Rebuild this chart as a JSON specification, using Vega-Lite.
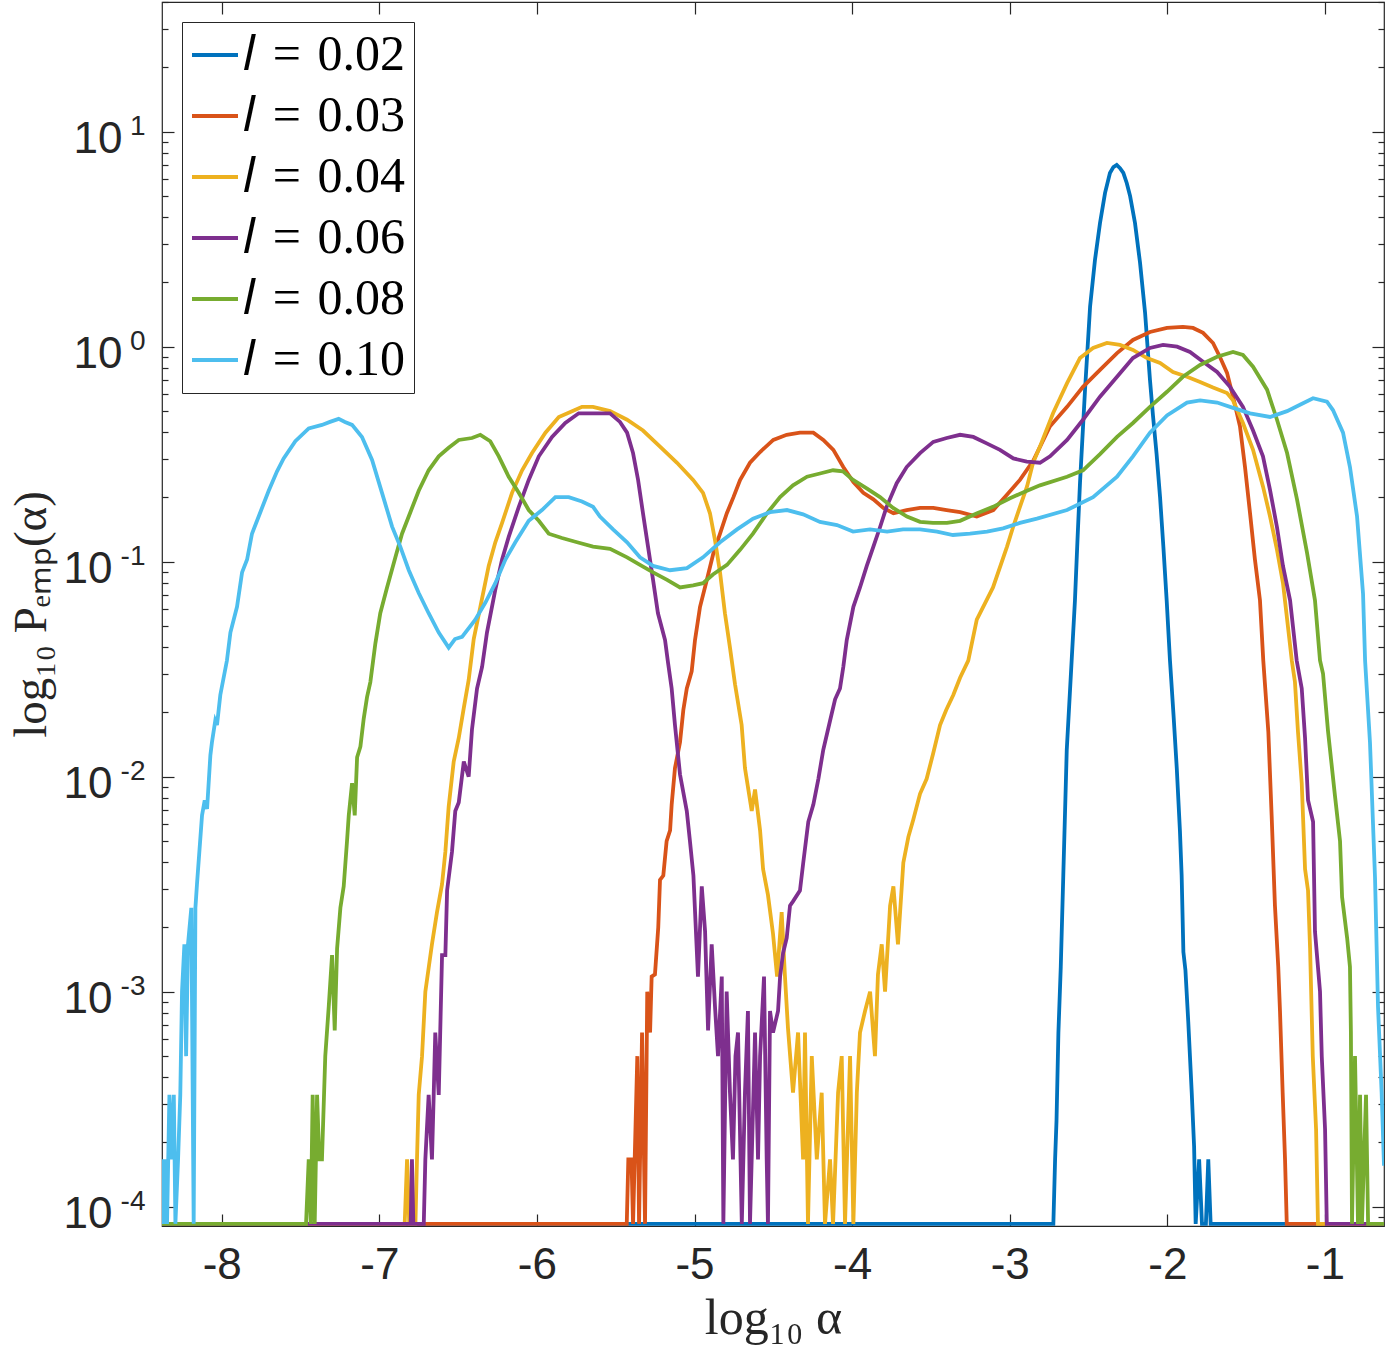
{
  "$schema": "https://vega.github.io/schema/vega-lite/v6.json",
  "width": 1222,
  "height": 1224,
  "autosize": {"type": "none"},
  "padding": {"left": 162, "top": 2, "right": 4, "bottom": 122},
  "background": "white",
  "config": {
    "view": {"stroke": "#262626", "strokeWidth": 1.2},
    "axis": {
      "domain": false,
      "grid": false,
      "tickColor": "#262626",
      "tickWidth": 1.2,
      "labelColor": "#262626",
      "labelFont": "Liberation Sans",
      "labelFontSize": 44,
      "titleFont": "Liberation Serif",
      "titleFontSize": 50,
      "titleFontWeight": "normal",
      "titleColor": "#262626"
    }
  },
  "data": {"values": [
{"l":"0.02","a":-8.379,"p":-4.08},{"l":"0.02","a":-2.723,"p":-4.08},{"l":"0.02","a":-2.712,"p":-3.78},{"l":"0.02","a":-2.703,"p":-3.6},{"l":"0.02","a":-2.691,"p":-3.19},{"l":"0.02","a":-2.676,"p":-2.885},{"l":"0.02","a":-2.660,"p":-2.46},{"l":"0.02","a":-2.638,"p":-1.875},{"l":"0.02","a":-2.607,"p":-1.46},{"l":"0.02","a":-2.586,"p":-1.18},{"l":"0.02","a":-2.570,"p":-0.9},{"l":"0.02","a":-2.554,"p":-0.634},{"l":"0.02","a":-2.522,"p":-0.2},{"l":"0.02","a":-2.490,"p":0.186},{"l":"0.02","a":-2.459,"p":0.403},{"l":"0.02","a":-2.427,"p":0.575},{"l":"0.02","a":-2.395,"p":0.715},{"l":"0.02","a":-2.364,"p":0.808},{"l":"0.02","a":-2.342,"p":0.835},{"l":"0.02","a":-2.321,"p":0.845},{"l":"0.02","a":-2.300,"p":0.83},{"l":"0.02","a":-2.279,"p":0.808},{"l":"0.02","a":-2.257,"p":0.76},{"l":"0.02","a":-2.236,"p":0.70},{"l":"0.02","a":-2.205,"p":0.575},{"l":"0.02","a":-2.173,"p":0.39},{"l":"0.02","a":-2.141,"p":0.157},{"l":"0.02","a":-2.110,"p":-0.155},{"l":"0.02","a":-2.091,"p":-0.32},{"l":"0.02","a":-2.068,"p":-0.5},{"l":"0.02","a":-2.046,"p":-0.7},{"l":"0.02","a":-2.025,"p":-0.93},{"l":"0.02","a":-2.004,"p":-1.18},{"l":"0.02","a":-1.983,"p":-1.46},{"l":"0.02","a":-1.960,"p":-1.72},{"l":"0.02","a":-1.940,"p":-1.96},{"l":"0.02","a":-1.920,"p":-2.25},{"l":"0.02","a":-1.909,"p":-2.46},{"l":"0.02","a":-1.898,"p":-2.815},{"l":"0.02","a":-1.885,"p":-2.9},{"l":"0.02","a":-1.867,"p":-3.14},{"l":"0.02","a":-1.845,"p":-3.47},{"l":"0.02","a":-1.830,"p":-3.72},{"l":"0.02","a":-1.820,"p":-4.08},{"l":"0.02","a":-1.798,"p":-3.78},{"l":"0.02","a":-1.780,"p":-4.08},{"l":"0.02","a":-1.755,"p":-4.08},{"l":"0.02","a":-1.740,"p":-3.78},{"l":"0.02","a":-1.725,"p":-4.08},{"l":"0.02","a":-0.625,"p":-4.08},

{"l":"0.03","a":-8.379,"p":-4.08},{"l":"0.03","a":-5.430,"p":-4.08},{"l":"0.03","a":-5.420,"p":-3.78},{"l":"0.03","a":-5.400,"p":-3.78},{"l":"0.03","a":-5.390,"p":-4.08},{"l":"0.03","a":-5.363,"p":-3.30},{"l":"0.03","a":-5.352,"p":-4.08},{"l":"0.03","a":-5.333,"p":-3.19},{"l":"0.03","a":-5.314,"p":-4.08},{"l":"0.03","a":-5.300,"p":-3.0},{"l":"0.03","a":-5.282,"p":-3.19},{"l":"0.03","a":-5.272,"p":-2.93},{"l":"0.03","a":-5.251,"p":-2.92},{"l":"0.03","a":-5.230,"p":-2.70},{"l":"0.03","a":-5.219,"p":-2.48},{"l":"0.03","a":-5.198,"p":-2.46},{"l":"0.03","a":-5.177,"p":-2.30},{"l":"0.03","a":-5.155,"p":-2.25},{"l":"0.03","a":-5.145,"p":-2.13},{"l":"0.03","a":-5.124,"p":-1.96},{"l":"0.03","a":-5.092,"p":-1.84},{"l":"0.03","a":-5.071,"p":-1.69},{"l":"0.03","a":-5.049,"p":-1.59},{"l":"0.03","a":-5.018,"p":-1.51},{"l":"0.03","a":-4.997,"p":-1.365},{"l":"0.03","a":-4.965,"p":-1.21},{"l":"0.03","a":-4.922,"p":-1.085},{"l":"0.03","a":-4.880,"p":-0.96},{"l":"0.03","a":-4.838,"p":-0.87},{"l":"0.03","a":-4.795,"p":-0.775},{"l":"0.03","a":-4.753,"p":-0.70},{"l":"0.03","a":-4.711,"p":-0.62},{"l":"0.03","a":-4.648,"p":-0.54},{"l":"0.03","a":-4.584,"p":-0.49},{"l":"0.03","a":-4.500,"p":-0.434},{"l":"0.03","a":-4.415,"p":-0.41},{"l":"0.03","a":-4.331,"p":-0.40},{"l":"0.03","a":-4.246,"p":-0.40},{"l":"0.03","a":-4.183,"p":-0.434},{"l":"0.03","a":-4.119,"p":-0.48},{"l":"0.03","a":-4.056,"p":-0.56},{"l":"0.03","a":-3.992,"p":-0.63},{"l":"0.03","a":-3.929,"p":-0.68},{"l":"0.03","a":-3.865,"p":-0.71},{"l":"0.03","a":-3.802,"p":-0.75},{"l":"0.03","a":-3.738,"p":-0.775},{"l":"0.03","a":-3.654,"p":-0.76},{"l":"0.03","a":-3.569,"p":-0.75},{"l":"0.03","a":-3.485,"p":-0.75},{"l":"0.03","a":-3.400,"p":-0.76},{"l":"0.03","a":-3.315,"p":-0.77},{"l":"0.03","a":-3.209,"p":-0.79},{"l":"0.03","a":-3.104,"p":-0.76},{"l":"0.03","a":-3.019,"p":-0.69},{"l":"0.03","a":-2.935,"p":-0.62},{"l":"0.03","a":-2.850,"p":-0.53},{"l":"0.03","a":-2.744,"p":-0.37},{"l":"0.03","a":-2.636,"p":-0.28},{"l":"0.03","a":-2.535,"p":-0.187},{"l":"0.03","a":-2.427,"p":-0.108},{"l":"0.03","a":-2.319,"p":-0.03},{"l":"0.03","a":-2.218,"p":0.031},{"l":"0.03","a":-2.110,"p":0.068},{"l":"0.03","a":-2.002,"p":0.087},{"l":"0.03","a":-1.901,"p":0.092},{"l":"0.03","a":-1.837,"p":0.087},{"l":"0.03","a":-1.773,"p":0.064},{"l":"0.03","a":-1.710,"p":0.017},{"l":"0.03","a":-1.666,"p":-0.048},{"l":"0.03","a":-1.621,"p":-0.122},{"l":"0.03","a":-1.583,"p":-0.233},{"l":"0.03","a":-1.539,"p":-0.37},{"l":"0.03","a":-1.507,"p":-0.56},{"l":"0.03","a":-1.475,"p":-0.775},{"l":"0.03","a":-1.444,"p":-0.99},{"l":"0.03","a":-1.412,"p":-1.18},{"l":"0.03","a":-1.391,"p":-1.46},{"l":"0.03","a":-1.359,"p":-1.79},{"l":"0.03","a":-1.338,"p":-2.18},{"l":"0.03","a":-1.317,"p":-2.60},{"l":"0.03","a":-1.296,"p":-2.885},{"l":"0.03","a":-1.285,"p":-3.09},{"l":"0.03","a":-1.268,"p":-3.47},{"l":"0.03","a":-1.253,"p":-3.78},{"l":"0.03","a":-1.242,"p":-4.08},{"l":"0.03","a":-0.625,"p":-4.08},

{"l":"0.04","a":-8.379,"p":-4.08},{"l":"0.04","a":-6.839,"p":-4.08},{"l":"0.04","a":-6.824,"p":-3.78},{"l":"0.04","a":-6.810,"p":-4.08},{"l":"0.04","a":-6.771,"p":-4.08},{"l":"0.04","a":-6.761,"p":-3.78},{"l":"0.04","a":-6.750,"p":-3.48},{"l":"0.04","a":-6.729,"p":-3.30},{"l":"0.04","a":-6.708,"p":-3.0},{"l":"0.04","a":-6.687,"p":-2.89},{"l":"0.04","a":-6.666,"p":-2.78},{"l":"0.04","a":-6.634,"p":-2.63},{"l":"0.04","a":-6.602,"p":-2.50},{"l":"0.04","a":-6.581,"p":-2.35},{"l":"0.04","a":-6.560,"p":-2.14},{"l":"0.04","a":-6.528,"p":-1.93},{"l":"0.04","a":-6.496,"p":-1.82},{"l":"0.04","a":-6.464,"p":-1.68},{"l":"0.04","a":-6.433,"p":-1.55},{"l":"0.04","a":-6.401,"p":-1.36},{"l":"0.04","a":-6.359,"p":-1.21},{"l":"0.04","a":-6.306,"p":-1.02},{"l":"0.04","a":-6.264,"p":-0.91},{"l":"0.04","a":-6.221,"p":-0.82},{"l":"0.04","a":-6.158,"p":-0.68},{"l":"0.04","a":-6.094,"p":-0.575},{"l":"0.04","a":-6.031,"p":-0.495},{"l":"0.04","a":-5.946,"p":-0.40},{"l":"0.04","a":-5.861,"p":-0.327},{"l":"0.04","a":-5.777,"p":-0.30},{"l":"0.04","a":-5.714,"p":-0.28},{"l":"0.04","a":-5.644,"p":-0.28},{"l":"0.04","a":-5.536,"p":-0.30},{"l":"0.04","a":-5.428,"p":-0.34},{"l":"0.04","a":-5.327,"p":-0.39},{"l":"0.04","a":-5.219,"p":-0.465},{"l":"0.04","a":-5.111,"p":-0.54},{"l":"0.04","a":-5.009,"p":-0.62},{"l":"0.04","a":-4.946,"p":-0.68},{"l":"0.04","a":-4.902,"p":-0.775},{"l":"0.04","a":-4.870,"p":-0.90},{"l":"0.04","a":-4.838,"p":-1.05},{"l":"0.04","a":-4.807,"p":-1.24},{"l":"0.04","a":-4.775,"p":-1.40},{"l":"0.04","a":-4.743,"p":-1.57},{"l":"0.04","a":-4.701,"p":-1.76},{"l":"0.04","a":-4.680,"p":-1.96},{"l":"0.04","a":-4.637,"p":-2.16},{"l":"0.04","a":-4.616,"p":-2.06},{"l":"0.04","a":-4.584,"p":-2.25},{"l":"0.04","a":-4.565,"p":-2.43},{"l":"0.04","a":-4.534,"p":-2.55},{"l":"0.04","a":-4.502,"p":-2.73},{"l":"0.04","a":-4.476,"p":-2.93},{"l":"0.04","a":-4.447,"p":-2.63},{"l":"0.04","a":-4.426,"p":-2.93},{"l":"0.04","a":-4.407,"p":-3.17},{"l":"0.04","a":-4.375,"p":-3.47},{"l":"0.04","a":-4.343,"p":-3.19},{"l":"0.04","a":-4.311,"p":-3.78},{"l":"0.04","a":-4.299,"p":-3.19},{"l":"0.04","a":-4.280,"p":-4.08},{"l":"0.04","a":-4.256,"p":-3.30},{"l":"0.04","a":-4.224,"p":-3.78},{"l":"0.04","a":-4.193,"p":-3.47},{"l":"0.04","a":-4.172,"p":-4.08},{"l":"0.04","a":-4.140,"p":-3.78},{"l":"0.04","a":-4.121,"p":-4.08},{"l":"0.04","a":-4.089,"p":-3.47},{"l":"0.04","a":-4.066,"p":-3.30},{"l":"0.04","a":-4.045,"p":-4.08},{"l":"0.04","a":-4.013,"p":-3.30},{"l":"0.04","a":-3.992,"p":-4.08},{"l":"0.04","a":-3.970,"p":-3.47},{"l":"0.04","a":-3.950,"p":-3.19},{"l":"0.04","a":-3.918,"p":-3.09},{"l":"0.04","a":-3.886,"p":-3.0},{"l":"0.04","a":-3.855,"p":-3.30},{"l":"0.04","a":-3.836,"p":-2.92},{"l":"0.04","a":-3.812,"p":-2.78},{"l":"0.04","a":-3.791,"p":-3.0},{"l":"0.04","a":-3.759,"p":-2.60},{"l":"0.04","a":-3.738,"p":-2.51},{"l":"0.04","a":-3.709,"p":-2.78},{"l":"0.04","a":-3.675,"p":-2.40},{"l":"0.04","a":-3.643,"p":-2.28},{"l":"0.04","a":-3.612,"p":-2.20},{"l":"0.04","a":-3.569,"p":-2.08},{"l":"0.04","a":-3.527,"p":-2.01},{"l":"0.04","a":-3.485,"p":-1.89},{"l":"0.04","a":-3.442,"p":-1.76},{"l":"0.04","a":-3.403,"p":-1.69},{"l":"0.04","a":-3.358,"p":-1.62},{"l":"0.04","a":-3.315,"p":-1.54},{"l":"0.04","a":-3.263,"p":-1.46},{"l":"0.04","a":-3.209,"p":-1.27},{"l":"0.04","a":-3.106,"p":-1.12},{"l":"0.04","a":-3.017,"p":-0.93},{"l":"0.04","a":-2.979,"p":-0.84},{"l":"0.04","a":-2.935,"p":-0.745},{"l":"0.04","a":-2.890,"p":-0.65},{"l":"0.04","a":-2.852,"p":-0.54},{"l":"0.04","a":-2.808,"p":-0.465},{"l":"0.04","a":-2.725,"p":-0.31},{"l":"0.04","a":-2.636,"p":-0.17},{"l":"0.04","a":-2.554,"p":-0.053},{"l":"0.04","a":-2.471,"p":-0.006},{"l":"0.04","a":-2.383,"p":0.017},{"l":"0.04","a":-2.300,"p":0.008},{"l":"0.04","a":-2.218,"p":-0.015},{"l":"0.04","a":-2.129,"p":-0.053},{"l":"0.04","a":-2.046,"p":-0.076},{"l":"0.04","a":-1.964,"p":-0.118},{"l":"0.04","a":-1.875,"p":-0.14},{"l":"0.04","a":-1.792,"p":-0.164},{"l":"0.04","a":-1.710,"p":-0.19},{"l":"0.04","a":-1.621,"p":-0.216},{"l":"0.04","a":-1.583,"p":-0.25},{"l":"0.04","a":-1.520,"p":-0.355},{"l":"0.04","a":-1.456,"p":-0.48},{"l":"0.04","a":-1.393,"p":-0.65},{"l":"0.04","a":-1.348,"p":-0.79},{"l":"0.04","a":-1.304,"p":-0.945},{"l":"0.04","a":-1.266,"p":-1.10},{"l":"0.04","a":-1.210,"p":-1.46},{"l":"0.04","a":-1.190,"p":-1.56},{"l":"0.04","a":-1.171,"p":-1.79},{"l":"0.04","a":-1.147,"p":-2.03},{"l":"0.04","a":-1.126,"p":-2.43},{"l":"0.04","a":-1.107,"p":-2.53},{"l":"0.04","a":-1.094,"p":-2.80},{"l":"0.04","a":-1.077,"p":-3.30},{"l":"0.04","a":-1.056,"p":-3.64},{"l":"0.04","a":-1.044,"p":-4.08},{"l":"0.04","a":-0.625,"p":-4.08},

{"l":"0.06","a":-8.379,"p":-4.08},{"l":"0.06","a":-6.801,"p":-4.08},{"l":"0.06","a":-6.793,"p":-3.78},{"l":"0.06","a":-6.784,"p":-4.08},{"l":"0.06","a":-6.718,"p":-4.08},{"l":"0.06","a":-6.708,"p":-3.78},{"l":"0.06","a":-6.687,"p":-3.48},{"l":"0.06","a":-6.666,"p":-3.78},{"l":"0.06","a":-6.655,"p":-3.48},{"l":"0.06","a":-6.645,"p":-3.19},{"l":"0.06","a":-6.623,"p":-3.48},{"l":"0.06","a":-6.602,"p":-2.83},{"l":"0.06","a":-6.581,"p":-2.83},{"l":"0.06","a":-6.570,"p":-2.53},{"l":"0.06","a":-6.539,"p":-2.35},{"l":"0.06","a":-6.518,"p":-2.16},{"l":"0.06","a":-6.496,"p":-2.12},{"l":"0.06","a":-6.464,"p":-1.93},{"l":"0.06","a":-6.433,"p":-2.0},{"l":"0.06","a":-6.412,"p":-1.78},{"l":"0.06","a":-6.380,"p":-1.59},{"l":"0.06","a":-6.348,"p":-1.49},{"l":"0.06","a":-6.317,"p":-1.33},{"l":"0.06","a":-6.264,"p":-1.13},{"l":"0.06","a":-6.221,"p":-0.99},{"l":"0.06","a":-6.179,"p":-0.885},{"l":"0.06","a":-6.115,"p":-0.745},{"l":"0.06","a":-6.052,"p":-0.62},{"l":"0.06","a":-5.988,"p":-0.51},{"l":"0.06","a":-5.904,"p":-0.42},{"l":"0.06","a":-5.820,"p":-0.355},{"l":"0.06","a":-5.735,"p":-0.31},{"l":"0.06","a":-5.644,"p":-0.31},{"l":"0.06","a":-5.536,"p":-0.31},{"l":"0.06","a":-5.473,"p":-0.35},{"l":"0.06","a":-5.428,"p":-0.40},{"l":"0.06","a":-5.390,"p":-0.495},{"l":"0.06","a":-5.358,"p":-0.62},{"l":"0.06","a":-5.327,"p":-0.775},{"l":"0.06","a":-5.295,"p":-0.93},{"l":"0.06","a":-5.263,"p":-1.085},{"l":"0.06","a":-5.232,"p":-1.24},{"l":"0.06","a":-5.187,"p":-1.365},{"l":"0.06","a":-5.168,"p":-1.47},{"l":"0.06","a":-5.145,"p":-1.59},{"l":"0.06","a":-5.124,"p":-1.76},{"l":"0.06","a":-5.092,"p":-1.99},{"l":"0.06","a":-5.049,"p":-2.16},{"l":"0.06","a":-5.029,"p":-2.30},{"l":"0.06","a":-5.007,"p":-2.46},{"l":"0.06","a":-4.978,"p":-2.93},{"l":"0.06","a":-4.954,"p":-2.51},{"l":"0.06","a":-4.933,"p":-2.72},{"l":"0.06","a":-4.914,"p":-3.18},{"l":"0.06","a":-4.891,"p":-2.78},{"l":"0.06","a":-4.870,"p":-3.07},{"l":"0.06","a":-4.851,"p":-3.30},{"l":"0.06","a":-4.827,"p":-2.93},{"l":"0.06","a":-4.817,"p":-4.08},{"l":"0.06","a":-4.796,"p":-3.0},{"l":"0.06","a":-4.775,"p":-3.47},{"l":"0.06","a":-4.756,"p":-3.78},{"l":"0.06","a":-4.740,"p":-3.30},{"l":"0.06","a":-4.724,"p":-3.19},{"l":"0.06","a":-4.700,"p":-4.08},{"l":"0.06","a":-4.680,"p":-3.47},{"l":"0.06","a":-4.661,"p":-3.09},{"l":"0.06","a":-4.648,"p":-4.08},{"l":"0.06","a":-4.616,"p":-3.19},{"l":"0.06","a":-4.597,"p":-3.78},{"l":"0.06","a":-4.584,"p":-3.30},{"l":"0.06","a":-4.559,"p":-2.93},{"l":"0.06","a":-4.542,"p":-3.78},{"l":"0.06","a":-4.534,"p":-4.08},{"l":"0.06","a":-4.521,"p":-3.09},{"l":"0.06","a":-4.502,"p":-3.19},{"l":"0.06","a":-4.470,"p":-3.09},{"l":"0.06","a":-4.457,"p":-2.93},{"l":"0.06","a":-4.438,"p":-2.82},{"l":"0.06","a":-4.415,"p":-2.75},{"l":"0.06","a":-4.394,"p":-2.60},{"l":"0.06","a":-4.375,"p":-2.58},{"l":"0.06","a":-4.331,"p":-2.53},{"l":"0.06","a":-4.310,"p":-2.40},{"l":"0.06","a":-4.278,"p":-2.21},{"l":"0.06","a":-4.246,"p":-2.13},{"l":"0.06","a":-4.214,"p":-2.01},{"l":"0.06","a":-4.183,"p":-1.875},{"l":"0.06","a":-4.140,"p":-1.74},{"l":"0.06","a":-4.108,"p":-1.64},{"l":"0.06","a":-4.077,"p":-1.59},{"l":"0.06","a":-4.056,"p":-1.49},{"l":"0.06","a":-4.034,"p":-1.365},{"l":"0.06","a":-3.992,"p":-1.21},{"l":"0.06","a":-3.950,"p":-1.12},{"l":"0.06","a":-3.907,"p":-1.02},{"l":"0.06","a":-3.865,"p":-0.93},{"l":"0.06","a":-3.823,"p":-0.84},{"l":"0.06","a":-3.781,"p":-0.745},{"l":"0.06","a":-3.717,"p":-0.635},{"l":"0.06","a":-3.654,"p":-0.56},{"l":"0.06","a":-3.569,"p":-0.495},{"l":"0.06","a":-3.485,"p":-0.443},{"l":"0.06","a":-3.400,"p":-0.425},{"l":"0.06","a":-3.315,"p":-0.41},{"l":"0.06","a":-3.231,"p":-0.42},{"l":"0.06","a":-3.146,"p":-0.45},{"l":"0.06","a":-3.062,"p":-0.48},{"l":"0.06","a":-2.977,"p":-0.52},{"l":"0.06","a":-2.892,"p":-0.535},{"l":"0.06","a":-2.808,"p":-0.54},{"l":"0.06","a":-2.744,"p":-0.51},{"l":"0.06","a":-2.636,"p":-0.434},{"l":"0.06","a":-2.535,"p":-0.34},{"l":"0.06","a":-2.427,"p":-0.233},{"l":"0.06","a":-2.319,"p":-0.14},{"l":"0.06","a":-2.218,"p":-0.053},{"l":"0.06","a":-2.110,"p":-0.006},{"l":"0.06","a":-2.027,"p":0.008},{"l":"0.06","a":-1.938,"p":0.0},{"l":"0.06","a":-1.856,"p":-0.025},{"l":"0.06","a":-1.773,"p":-0.07},{"l":"0.06","a":-1.684,"p":-0.118},{"l":"0.06","a":-1.602,"p":-0.187},{"l":"0.06","a":-1.520,"p":-0.28},{"l":"0.06","a":-1.456,"p":-0.39},{"l":"0.06","a":-1.393,"p":-0.51},{"l":"0.06","a":-1.348,"p":-0.667},{"l":"0.06","a":-1.304,"p":-0.84},{"l":"0.06","a":-1.266,"p":-1.02},{"l":"0.06","a":-1.221,"p":-1.18},{"l":"0.06","a":-1.179,"p":-1.46},{"l":"0.06","a":-1.147,"p":-1.59},{"l":"0.06","a":-1.126,"p":-1.82},{"l":"0.06","a":-1.107,"p":-2.11},{"l":"0.06","a":-1.075,"p":-2.21},{"l":"0.06","a":-1.063,"p":-2.72},{"l":"0.06","a":-1.031,"p":-3.0},{"l":"0.06","a":-1.020,"p":-3.30},{"l":"0.06","a":-0.999,"p":-3.64},{"l":"0.06","a":-0.988,"p":-4.08},{"l":"0.06","a":-0.625,"p":-4.08},

{"l":"0.08","a":-8.379,"p":-4.08},{"l":"0.08","a":-7.465,"p":-4.08},{"l":"0.08","a":-7.448,"p":-3.78},{"l":"0.08","a":-7.435,"p":-4.08},{"l":"0.08","a":-7.423,"p":-3.48},{"l":"0.08","a":-7.410,"p":-4.08},{"l":"0.08","a":-7.395,"p":-3.48},{"l":"0.08","a":-7.381,"p":-3.78},{"l":"0.08","a":-7.364,"p":-3.78},{"l":"0.08","a":-7.343,"p":-3.30},{"l":"0.08","a":-7.321,"p":-3.07},{"l":"0.08","a":-7.300,"p":-2.83},{"l":"0.08","a":-7.283,"p":-3.18},{"l":"0.08","a":-7.268,"p":-2.80},{"l":"0.08","a":-7.247,"p":-2.61},{"l":"0.08","a":-7.226,"p":-2.51},{"l":"0.08","a":-7.205,"p":-2.30},{"l":"0.08","a":-7.194,"p":-2.18},{"l":"0.08","a":-7.173,"p":-2.03},{"l":"0.08","a":-7.156,"p":-2.18},{"l":"0.08","a":-7.141,"p":-1.91},{"l":"0.08","a":-7.120,"p":-1.86},{"l":"0.08","a":-7.099,"p":-1.73},{"l":"0.08","a":-7.078,"p":-1.63},{"l":"0.08","a":-7.057,"p":-1.56},{"l":"0.08","a":-7.025,"p":-1.38},{"l":"0.08","a":-6.994,"p":-1.24},{"l":"0.08","a":-6.951,"p":-1.12},{"l":"0.08","a":-6.898,"p":-0.98},{"l":"0.08","a":-6.856,"p":-0.87},{"l":"0.08","a":-6.803,"p":-0.77},{"l":"0.08","a":-6.750,"p":-0.67},{"l":"0.08","a":-6.687,"p":-0.575},{"l":"0.08","a":-6.623,"p":-0.51},{"l":"0.08","a":-6.560,"p":-0.47},{"l":"0.08","a":-6.496,"p":-0.434},{"l":"0.08","a":-6.412,"p":-0.425},{"l":"0.08","a":-6.359,"p":-0.41},{"l":"0.08","a":-6.296,"p":-0.44},{"l":"0.08","a":-6.242,"p":-0.51},{"l":"0.08","a":-6.179,"p":-0.605},{"l":"0.08","a":-6.115,"p":-0.68},{"l":"0.08","a":-6.052,"p":-0.76},{"l":"0.08","a":-5.988,"p":-0.81},{"l":"0.08","a":-5.925,"p":-0.87},{"l":"0.08","a":-5.841,"p":-0.89},{"l":"0.08","a":-5.745,"p":-0.91},{"l":"0.08","a":-5.644,"p":-0.93},{"l":"0.08","a":-5.536,"p":-0.94},{"l":"0.08","a":-5.428,"p":-0.98},{"l":"0.08","a":-5.346,"p":-1.015},{"l":"0.08","a":-5.263,"p":-1.05},{"l":"0.08","a":-5.174,"p":-1.085},{"l":"0.08","a":-5.092,"p":-1.12},{"l":"0.08","a":-5.009,"p":-1.11},{"l":"0.08","a":-4.946,"p":-1.10},{"l":"0.08","a":-4.883,"p":-1.06},{"l":"0.08","a":-4.794,"p":-1.015},{"l":"0.08","a":-4.711,"p":-0.945},{"l":"0.08","a":-4.629,"p":-0.87},{"l":"0.08","a":-4.540,"p":-0.775},{"l":"0.08","a":-4.457,"p":-0.70},{"l":"0.08","a":-4.375,"p":-0.645},{"l":"0.08","a":-4.286,"p":-0.605},{"l":"0.08","a":-4.204,"p":-0.59},{"l":"0.08","a":-4.121,"p":-0.575},{"l":"0.08","a":-4.058,"p":-0.58},{"l":"0.08","a":-3.994,"p":-0.62},{"l":"0.08","a":-3.905,"p":-0.66},{"l":"0.08","a":-3.823,"p":-0.70},{"l":"0.08","a":-3.740,"p":-0.75},{"l":"0.08","a":-3.652,"p":-0.79},{"l":"0.08","a":-3.569,"p":-0.815},{"l":"0.08","a":-3.487,"p":-0.82},{"l":"0.08","a":-3.398,"p":-0.82},{"l":"0.08","a":-3.315,"p":-0.81},{"l":"0.08","a":-3.207,"p":-0.775},{"l":"0.08","a":-3.106,"p":-0.745},{"l":"0.08","a":-2.998,"p":-0.705},{"l":"0.08","a":-2.890,"p":-0.67},{"l":"0.08","a":-2.808,"p":-0.645},{"l":"0.08","a":-2.636,"p":-0.605},{"l":"0.08","a":-2.535,"p":-0.575},{"l":"0.08","a":-2.427,"p":-0.50},{"l":"0.08","a":-2.319,"p":-0.42},{"l":"0.08","a":-2.218,"p":-0.355},{"l":"0.08","a":-2.110,"p":-0.28},{"l":"0.08","a":-2.002,"p":-0.21},{"l":"0.08","a":-1.901,"p":-0.14},{"l":"0.08","a":-1.792,"p":-0.085},{"l":"0.08","a":-1.684,"p":-0.047},{"l":"0.08","a":-1.583,"p":-0.025},{"l":"0.08","a":-1.520,"p":-0.039},{"l":"0.08","a":-1.456,"p":-0.093},{"l":"0.08","a":-1.367,"p":-0.20},{"l":"0.08","a":-1.304,"p":-0.34},{"l":"0.08","a":-1.240,"p":-0.495},{"l":"0.08","a":-1.177,"p":-0.71},{"l":"0.08","a":-1.113,"p":-0.96},{"l":"0.08","a":-1.063,"p":-1.18},{"l":"0.08","a":-1.031,"p":-1.46},{"l":"0.08","a":-1.012,"p":-1.52},{"l":"0.08","a":-0.980,"p":-1.79},{"l":"0.08","a":-0.936,"p":-2.09},{"l":"0.08","a":-0.904,"p":-2.30},{"l":"0.08","a":-0.891,"p":-2.56},{"l":"0.08","a":-0.859,"p":-2.75},{"l":"0.08","a":-0.841,"p":-2.885},{"l":"0.08","a":-0.835,"p":-3.19},{"l":"0.08","a":-0.828,"p":-4.08},{"l":"0.08","a":-0.809,"p":-3.30},{"l":"0.08","a":-0.790,"p":-4.08},{"l":"0.08","a":-0.777,"p":-3.48},{"l":"0.08","a":-0.765,"p":-4.08},{"l":"0.08","a":-0.739,"p":-3.48},{"l":"0.08","a":-0.726,"p":-4.08},{"l":"0.08","a":-0.625,"p":-4.08},

{"l":"0.10","a":-8.379,"p":-3.78},{"l":"0.10","a":-8.368,"p":-4.08},{"l":"0.10","a":-8.358,"p":-3.78},{"l":"0.10","a":-8.347,"p":-4.08},{"l":"0.10","a":-8.332,"p":-3.48},{"l":"0.10","a":-8.319,"p":-3.78},{"l":"0.10","a":-8.304,"p":-3.48},{"l":"0.10","a":-8.294,"p":-4.08},{"l":"0.10","a":-8.277,"p":-3.78},{"l":"0.10","a":-8.263,"p":-3.48},{"l":"0.10","a":-8.252,"p":-3.0},{"l":"0.10","a":-8.237,"p":-2.78},{"l":"0.10","a":-8.226,"p":-3.30},{"l":"0.10","a":-8.214,"p":-2.78},{"l":"0.10","a":-8.193,"p":-2.61},{"l":"0.10","a":-8.178,"p":-4.08},{"l":"0.10","a":-8.167,"p":-2.61},{"l":"0.10","a":-8.157,"p":-2.50},{"l":"0.10","a":-8.125,"p":-2.18},{"l":"0.10","a":-8.108,"p":-2.11},{"l":"0.10","a":-8.093,"p":-2.15},{"l":"0.10","a":-8.072,"p":-1.90},{"l":"0.10","a":-8.062,"p":-1.84},{"l":"0.10","a":-8.041,"p":-1.74},{"l":"0.10","a":-8.030,"p":-1.76},{"l":"0.10","a":-8.009,"p":-1.62},{"l":"0.10","a":-7.967,"p":-1.46},{"l":"0.10","a":-7.945,"p":-1.33},{"l":"0.10","a":-7.903,"p":-1.21},{"l":"0.10","a":-7.871,"p":-1.05},{"l":"0.10","a":-7.839,"p":-0.99},{"l":"0.10","a":-7.808,"p":-0.87},{"l":"0.10","a":-7.755,"p":-0.77},{"l":"0.10","a":-7.702,"p":-0.67},{"l":"0.10","a":-7.649,"p":-0.58},{"l":"0.10","a":-7.607,"p":-0.52},{"l":"0.10","a":-7.533,"p":-0.44},{"l":"0.10","a":-7.448,"p":-0.38},{"l":"0.10","a":-7.364,"p":-0.364},{"l":"0.10","a":-7.313,"p":-0.35},{"l":"0.10","a":-7.258,"p":-0.336},{"l":"0.10","a":-7.218,"p":-0.35},{"l":"0.10","a":-7.173,"p":-0.364},{"l":"0.10","a":-7.110,"p":-0.42},{"l":"0.10","a":-7.046,"p":-0.527},{"l":"0.10","a":-6.983,"p":-0.68},{"l":"0.10","a":-6.919,"p":-0.837},{"l":"0.10","a":-6.867,"p":-0.93},{"l":"0.10","a":-6.813,"p":-1.04},{"l":"0.10","a":-6.750,"p":-1.146},{"l":"0.10","a":-6.687,"p":-1.24},{"l":"0.10","a":-6.623,"p":-1.33},{"l":"0.10","a":-6.560,"p":-1.40},{"l":"0.10","a":-6.520,"p":-1.36},{"l":"0.10","a":-6.475,"p":-1.35},{"l":"0.10","a":-6.391,"p":-1.27},{"l":"0.10","a":-6.327,"p":-1.19},{"l":"0.10","a":-6.264,"p":-1.10},{"l":"0.10","a":-6.200,"p":-0.99},{"l":"0.10","a":-6.137,"p":-0.91},{"l":"0.10","a":-6.052,"p":-0.81},{"l":"0.10","a":-5.968,"p":-0.76},{"l":"0.10","a":-5.883,"p":-0.70},{"l":"0.10","a":-5.798,"p":-0.70},{"l":"0.10","a":-5.714,"p":-0.72},{"l":"0.10","a":-5.644,"p":-0.745},{"l":"0.10","a":-5.600,"p":-0.79},{"l":"0.10","a":-5.517,"p":-0.85},{"l":"0.10","a":-5.428,"p":-0.91},{"l":"0.10","a":-5.346,"p":-0.98},{"l":"0.10","a":-5.263,"p":-1.02},{"l":"0.10","a":-5.155,"p":-1.04},{"l":"0.10","a":-5.048,"p":-1.03},{"l":"0.10","a":-4.946,"p":-0.98},{"l":"0.10","a":-4.838,"p":-0.91},{"l":"0.10","a":-4.730,"p":-0.85},{"l":"0.10","a":-4.629,"p":-0.80},{"l":"0.10","a":-4.521,"p":-0.77},{"l":"0.10","a":-4.413,"p":-0.76},{"l":"0.10","a":-4.311,"p":-0.78},{"l":"0.10","a":-4.204,"p":-0.815},{"l":"0.10","a":-4.096,"p":-0.83},{"l":"0.10","a":-3.994,"p":-0.86},{"l":"0.10","a":-3.886,"p":-0.85},{"l":"0.10","a":-3.778,"p":-0.86},{"l":"0.10","a":-3.677,"p":-0.85},{"l":"0.10","a":-3.569,"p":-0.85},{"l":"0.10","a":-3.461,"p":-0.86},{"l":"0.10","a":-3.360,"p":-0.876},{"l":"0.10","a":-3.252,"p":-0.87},{"l":"0.10","a":-3.144,"p":-0.86},{"l":"0.10","a":-3.042,"p":-0.845},{"l":"0.10","a":-2.935,"p":-0.82},{"l":"0.10","a":-2.827,"p":-0.80},{"l":"0.10","a":-2.636,"p":-0.76},{"l":"0.10","a":-2.471,"p":-0.70},{"l":"0.10","a":-2.319,"p":-0.605},{"l":"0.10","a":-2.218,"p":-0.51},{"l":"0.10","a":-2.110,"p":-0.40},{"l":"0.10","a":-2.002,"p":-0.32},{"l":"0.10","a":-1.875,"p":-0.26},{"l":"0.10","a":-1.792,"p":-0.25},{"l":"0.10","a":-1.684,"p":-0.26},{"l":"0.10","a":-1.583,"p":-0.285},{"l":"0.10","a":-1.475,"p":-0.31},{"l":"0.10","a":-1.348,"p":-0.327},{"l":"0.10","a":-1.240,"p":-0.30},{"l":"0.10","a":-1.158,"p":-0.27},{"l":"0.10","a":-1.075,"p":-0.24},{"l":"0.10","a":-0.987,"p":-0.256},{"l":"0.10","a":-0.949,"p":-0.295},{"l":"0.10","a":-0.885,"p":-0.40},{"l":"0.10","a":-0.841,"p":-0.56},{"l":"0.10","a":-0.796,"p":-0.79},{"l":"0.10","a":-0.758,"p":-1.15},{"l":"0.10","a":-0.745,"p":-1.46},{"l":"0.10","a":-0.714,"p":-1.84},{"l":"0.10","a":-0.682,"p":-2.47},{"l":"0.10","a":-0.663,"p":-3.07},{"l":"0.10","a":-0.640,"p":-3.47},{"l":"0.10","a":-0.625,"p":-3.81}
  ]},
  "layer": [
    {
      "mark": {"type": "line", "strokeWidth": 3.8, "clip": true},
      "encoding": {
        "x": {
          "field": "a", "type": "quantitative",
          "scale": {"domain": [-8.379, -0.625], "nice": false, "zero": false},
          "axis": {
            "orient": "bottom",
            "values": [-8, -7, -6, -5, -4, -3, -2, -1],
            "labelExpr": "'' + datum.value",
            "tickSize": -12,
            "labelPadding": 29,
            "title": "log₁₀ α",
            "titlePadding": 6
          }
        },
        "y": {
          "field": "p", "type": "quantitative",
          "scale": {"domain": [-4.09, 1.603], "nice": false, "zero": false},
          "axis": {
            "orient": "left",
            "values": [-4.046, -4, -3.699, -3.523, -3.398, -3.301, -3.222, -3.155, -3.097, -3.046, -3, -2.699, -2.523, -2.398, -2.301, -2.222, -2.155, -2.097, -2.046, -2, -1.699, -1.523, -1.398, -1.301, -1.222, -1.155, -1.097, -1.046, -1, -0.699, -0.523, -0.398, -0.301, -0.222, -0.155, -0.097, -0.046, 0, 0.301, 0.477, 0.602, 0.699, 0.778, 0.845, 0.903, 0.954, 1, 1.301, 1.477, 1.602],
            "tickSize": {"condition": {"test": "datum.value == round(datum.value)", "value": -12}, "value": -6},
            "labels": false,
            "title": null
          }
        },
        "color": {
          "field": "l", "type": "nominal",
          "scale": {"domain": ["0.02", "0.03", "0.04", "0.06", "0.08", "0.10"], "range": ["#0072BD", "#D95319", "#EDB120", "#7E2F8E", "#77AC30", "#4DBEEE"]},
          "legend": {
            "orient": "top-left",
            "offset": 20,
            "title": null,
            "padding": 8,
            "strokeColor": "#262626",
            "fillColor": "white",
            "symbolType": "stroke",
            "symbolSize": 2116,
            "symbolStrokeWidth": 4,
            "labelFont": "Liberation Serif",
            "labelFontSize": 50,
            "labelColor": "black",
            "labelOffset": 3,
            "labelLimit": 400,
            "rowPadding": 11,
            "labelExpr": "'𝑙\u2004=\u2004' + datum.label"
          }
        }
      }
    },
    {
      "mark": {"type": "line", "opacity": 0},
      "encoding": {
        "x": {
          "field": "a", "type": "quantitative",
          "scale": {"domain": [-8.379, -0.625], "nice": false, "zero": false},
          "axis": {"orient": "top", "values": [-8, -7, -6, -5, -4, -3, -2, -1], "labels": false, "tickSize": -12, "title": null}
        },
        "y": {
          "field": "p", "type": "quantitative",
          "scale": {"domain": [-4.09, 1.603], "nice": false, "zero": false},
          "axis": {
            "orient": "right",
            "values": [-4.046, -4, -3.699, -3.523, -3.398, -3.301, -3.222, -3.155, -3.097, -3.046, -3, -2.699, -2.523, -2.398, -2.301, -2.222, -2.155, -2.097, -2.046, -2, -1.699, -1.523, -1.398, -1.301, -1.222, -1.155, -1.097, -1.046, -1, -0.699, -0.523, -0.398, -0.301, -0.222, -0.155, -0.097, -0.046, 0, 0.301, 0.477, 0.602, 0.699, 0.778, 0.845, 0.903, 0.954, 1, 1.301, 1.477, 1.602],
            "tickSize": {"condition": {"test": "datum.value == round(datum.value)", "value": -12}, "value": -6},
            "labels": false,
            "title": null
          }
        }
      }
    },
    {
      "mark": {"type": "line", "opacity": 0},
      "encoding": {
        "x": {"field": "a", "type": "quantitative", "scale": {"domain": [-8.379, -0.625], "nice": false, "zero": false}, "axis": null},
        "y": {
          "field": "p", "type": "quantitative",
          "scale": {"domain": [-4.09, 1.603], "nice": false, "zero": false},
          "axis": {
            "orient": "left",
            "values": [-4, -3, -2, -1],
            "ticks": false,
            "labelExpr": "'10'",
            "labelPadding": 50,
            "labelOffset": 8,
            "title": "log₁₀ Pₑₘₚ(α)",
            "titleFontSize": 47,
            "titlePadding": 8
          }
        }
      }
    },
    {
      "mark": {"type": "line", "opacity": 0},
      "encoding": {
        "x": {"field": "a", "type": "quantitative", "scale": {"domain": [-8.379, -0.625], "nice": false, "zero": false}, "axis": null},
        "y": {
          "field": "p", "type": "quantitative",
          "scale": {"domain": [-4.09, 1.603], "nice": false, "zero": false},
          "axis": {
            "orient": "left",
            "values": [0, 1],
            "ticks": false,
            "labelExpr": "'10'",
            "labelPadding": 40,
            "labelOffset": 8,
            "title": null
          }
        }
      }
    },
    {
      "mark": {"type": "line", "opacity": 0},
      "encoding": {
        "x": {"field": "a", "type": "quantitative", "scale": {"domain": [-8.379, -0.625], "nice": false, "zero": false}, "axis": null},
        "y": {
          "field": "p", "type": "quantitative",
          "scale": {"domain": [-4.09, 1.603], "nice": false, "zero": false},
          "axis": {
            "orient": "left",
            "values": [-4, -3, -2, -1, 0, 1],
            "ticks": false,
            "labelExpr": "'' + datum.value",
            "labelFontSize": 28,
            "labelPadding": 17,
            "labelOffset": -5,
            "title": null
          }
        }
      }
    }
  ],
  "resolve": {"axis": {"x": "independent", "y": "independent"}}
}
